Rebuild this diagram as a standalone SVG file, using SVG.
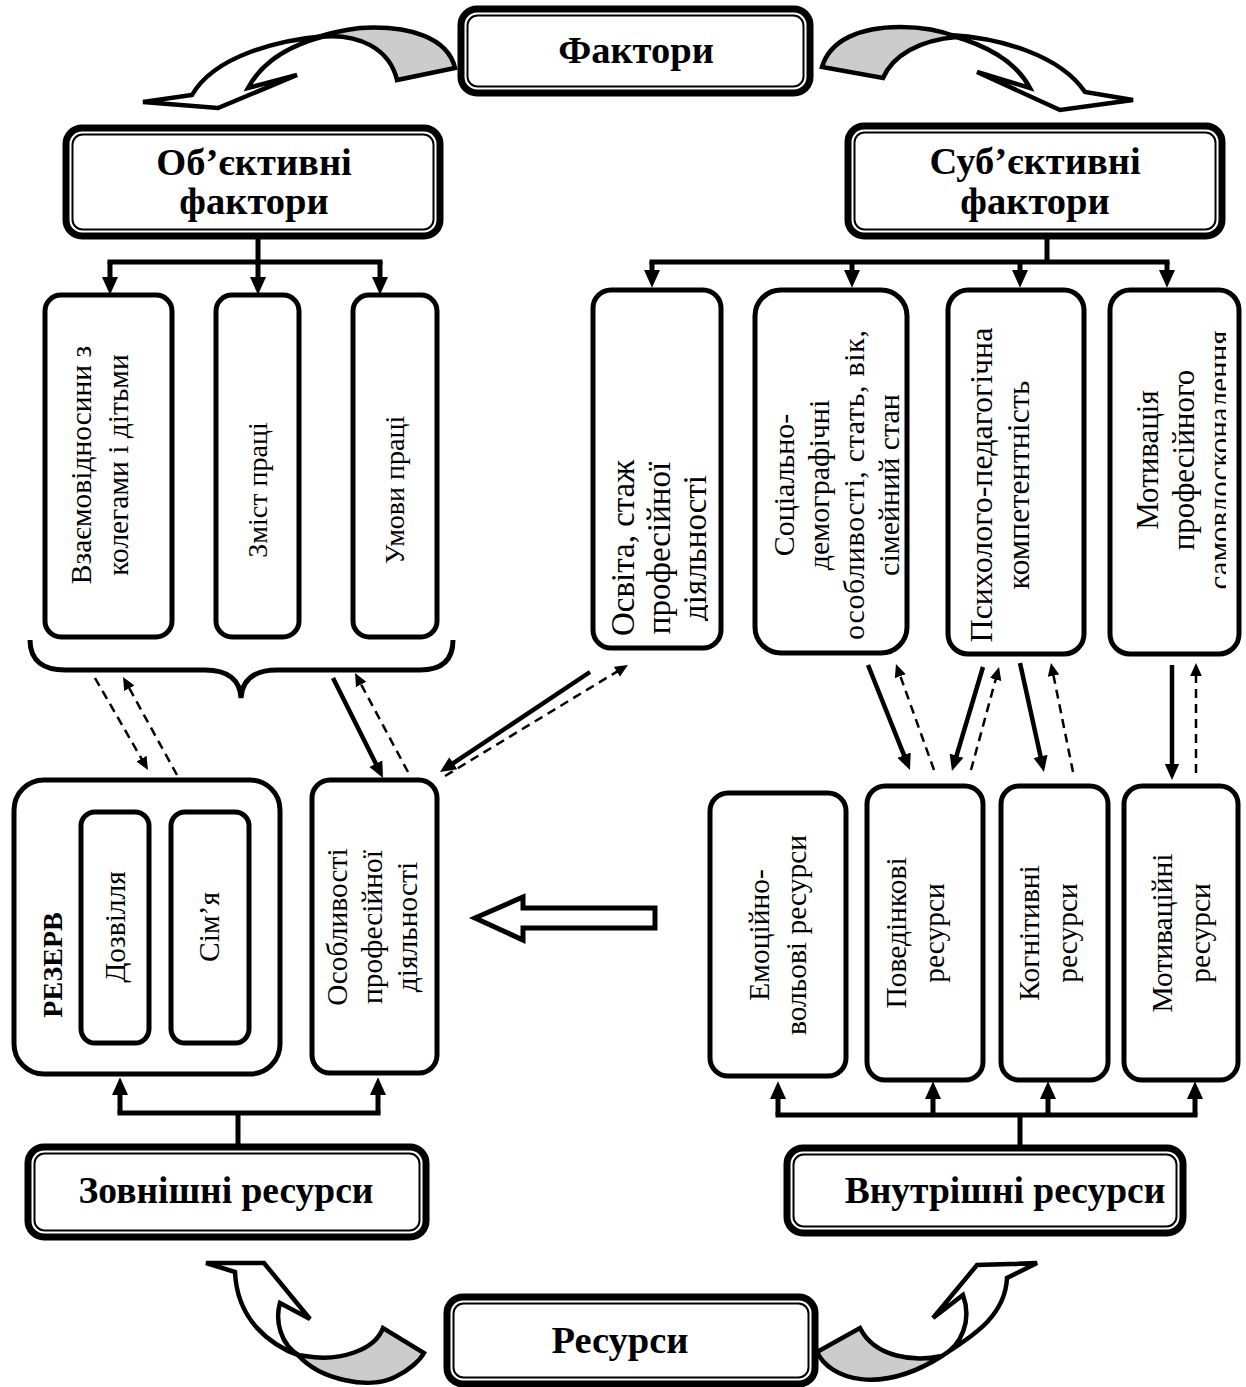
<svg xmlns="http://www.w3.org/2000/svg" width="1246" height="1387" viewBox="0 0 1246 1387">
<style>
.box{fill:#fff;stroke:#000;stroke-width:5}
.dbo{fill:#fff;stroke:#000;stroke-width:7}
.dbi{fill:none;stroke:#000;stroke-width:2}
.t{font-family:"Liberation Serif","Times New Roman",serif;font-size:28px;fill:#000}
.t2{font-family:"Liberation Serif","Times New Roman",serif;font-size:29.5px;fill:#000}
.tb{font-family:"Liberation Serif","Times New Roman",serif;font-size:32px;fill:#000}
.h{font-family:"Liberation Serif","Times New Roman",serif;font-size:38.5px;font-weight:bold;fill:#000}
.ln{stroke:#000;stroke-width:5;fill:none}
.sl{stroke:#000;stroke-width:4.5;fill:none}
.dl{stroke:#000;stroke-width:2.5;fill:none;stroke-dasharray:9 6}
.rib{fill:#fff;stroke:#000;stroke-width:4.5;stroke-linejoin:miter}
.ribg{fill:#ccc;stroke:#000;stroke-width:4.5}
</style>
<defs>
<marker id="ah" viewBox="0 0 10 10" refX="4" refY="5" markerWidth="18" markerHeight="18" markerUnits="userSpaceOnUse" orient="auto"><path d="M0,0.5 L10,5 L0,9.5 Z" fill="#000"/></marker>
<marker id="as" viewBox="0 0 10 10" refX="4" refY="5" markerWidth="16" markerHeight="16" markerUnits="userSpaceOnUse" orient="auto"><path d="M0,0.5 L10,5 L0,9.5 Z" fill="#000"/></marker>
<marker id="ad" viewBox="0 0 10 10" refX="4" refY="5" markerWidth="13" markerHeight="13" markerUnits="userSpaceOnUse" orient="auto"><path d="M0,0.5 L10,5 L0,9.5 Z" fill="#000"/></marker>
<clipPath id="cOsv"><rect x="596" y="293" width="112" height="352"/></clipPath>
<clipPath id="cSoc"><rect x="758" y="293" width="146" height="357"/></clipPath>
<clipPath id="cMot"><rect x="1113" y="293" width="113" height="358"/></clipPath>
</defs>

<!-- curved ribbon arrows -->
<g id="ribbons">
<path class="ribg" d="M318,37 C360,32 390,50 397,80 L455,68 C448,38 410,25 360,28 C345,30 330,33 318,37 Z"/>
<path class="rib" d="M325,36 C280,40 215,55 192,95 L143,102 L218,108 L297,75 L248,88 C262,62 290,45 325,36 Z"/>
<path class="ribg" d="M957,37 C920,40 893,55 883,78 L822,67 C830,40 860,27 900,27 C920,27 940,30 957,37 Z"/>
<path class="rib" d="M950,35 C1000,38 1060,55 1085,92 L1133,100 L1060,110 L977,72 L1030,88 C1015,60 985,45 950,35 Z"/>
<path class="ribg" d="M298,1355 C320,1380 370,1390 395,1377 C410,1370 420,1360 424,1353 L383,1328 C375,1350 340,1362 305,1356 Z"/>
<path class="rib" d="M300,1356 C270,1345 237,1320 235,1272 L206,1263 L264,1263 L310,1319 L280,1303 C275,1320 280,1345 300,1356 Z"/>
<path class="ribg" d="M817,1352 C830,1380 880,1395 942,1356 C915,1362 875,1358 860,1328 Z"/>
<path class="rib" d="M942,1356 C965,1340 1005,1320 1007,1278 L1037,1263 L977,1265 L933,1318 L963,1295 C972,1320 962,1345 942,1356 Z"/>
</g>

<!-- connectors -->
<g id="connectors">
<path class="ln" d="M258,238 V284" marker-end="url(#ah)"/>
<path class="ln" d="M107.5,262 H382.5"/>
<path class="ln" d="M110,262 V284" marker-end="url(#ah)"/>
<path class="ln" d="M380,262 V284" marker-end="url(#ah)"/>

<path class="ln" d="M1047,238 V262"/>
<path class="ln" d="M649.5,262 H1169.5"/>
<path class="ln" d="M652,262 V277" marker-end="url(#ah)"/>
<path class="ln" d="M852,262 V277" marker-end="url(#ah)"/>
<path class="ln" d="M1020,262 V277" marker-end="url(#ah)"/>
<path class="ln" d="M1167,262 V277" marker-end="url(#ah)"/>

<path class="ln" d="M30,640 C30,662 45,670 65,670 L205,670 C228,670 240,680 241,698 C242,680 254,670 277,670 L420,670 C440,670 453,662 453,640"/>

<path class="sl" d="M333,678 L378.7,769.4" marker-end="url(#as)"/>
<path class="sl" d="M590,672 L448,766.7" marker-end="url(#as)"/>
<path class="sl" d="M868,665 L906.4,761.1" marker-end="url(#as)"/>
<path class="sl" d="M983,667 L954.7,761.8" marker-end="url(#as)"/>
<path class="sl" d="M1020,663 L1041.9,762.6" marker-end="url(#as)"/>
<path class="sl" d="M1172,665 L1172,770.4" marker-end="url(#as)"/>

<path class="dl" d="M95,678 L144.1,763.2" marker-end="url(#ad)"/>
<path class="dl" d="M177,775 L126.8,683.8" marker-end="url(#ad)"/>
<path class="dl" d="M408,772 L358.7,679.9" marker-end="url(#ad)"/>
<path class="dl" d="M445,776 L621.3,669" marker-end="url(#ad)"/>
<path class="dl" d="M934,770 L898.6,671.3" marker-end="url(#ad)"/>
<path class="dl" d="M971,770 L997,674.5" marker-end="url(#ad)"/>
<path class="dl" d="M1073,772 L1052.5,670.6" marker-end="url(#ad)"/>
<path class="dl" d="M1196,773 L1196,670.8" marker-end="url(#ad)"/>

<path d="M475,918 L523,897 L523,908 L655,908 L655,928 L523,928 L523,940 Z" fill="#fff" stroke="#000" stroke-width="5" stroke-linejoin="miter"/>

<path class="ln" d="M238,1147 V1113"/>
<path class="ln" d="M117.5,1113 H380.5"/>
<path class="ln" d="M120,1113 V1088" marker-end="url(#ah)"/>
<path class="ln" d="M378,1113 V1088" marker-end="url(#ah)"/>

<path class="ln" d="M1020,1148 V1115"/>
<path class="ln" d="M775.5,1115 H1197.5"/>
<path class="ln" d="M778,1115 V1092" marker-end="url(#ah)"/>
<path class="ln" d="M933,1115 V1092" marker-end="url(#ah)"/>
<path class="ln" d="M1048,1115 V1092" marker-end="url(#ah)"/>
<path class="ln" d="M1195,1115 V1092" marker-end="url(#ah)"/>
</g>

<!-- header nodes -->
<g id="n-faktory">
<rect class="dbo" x="461" y="9" width="349" height="84" rx="16"/>
<rect class="dbi" x="467.5" y="15.5" width="336" height="71" rx="10"/>
<text class="h" x="636" y="63" text-anchor="middle">Фактори</text>
</g>
<g id="n-obj">
<rect class="dbo" x="66" y="128" width="374" height="108" rx="16"/>
<rect class="dbi" x="72.5" y="134.5" width="361" height="95" rx="10"/>
<text class="h" x="254" y="175" text-anchor="middle">Об’єктивні</text>
<text class="h" x="254" y="214" text-anchor="middle">фактори</text>
</g>
<g id="n-subj">
<rect class="dbo" x="848" y="126" width="374" height="110" rx="16"/>
<rect class="dbi" x="854.5" y="132.5" width="361" height="97" rx="10"/>
<text class="h" x="1035" y="174" text-anchor="middle">Суб’єктивні</text>
<text class="h" x="1035" y="214" text-anchor="middle">фактори</text>
</g>

<!-- objective factor boxes -->
<g id="n-vzaiem">
<rect class="box" x="45" y="295" width="127" height="342" rx="16"/>
<text class="t" style="font-size:29.5px" transform="translate(91,465) rotate(-90)" text-anchor="middle"><tspan x="0" y="0">Взаємовідносини з</tspan><tspan x="0" dy="37">колегами і дітьми</tspan></text>
</g>
<g id="n-zmist">
<rect class="box" x="216" y="295" width="83" height="342" rx="16"/>
<text class="t" transform="translate(267,490) rotate(-90)" text-anchor="middle">Зміст праці</text>
</g>
<g id="n-umovy">
<rect class="box" x="353" y="295" width="84" height="342" rx="16"/>
<text class="t" transform="translate(404,490) rotate(-90)" text-anchor="middle">Умови праці</text>
</g>

<!-- subjective factor boxes -->
<g id="n-osvita">
<rect class="box" x="593" y="290" width="128" height="358" rx="18"/>
<g clip-path="url(#cOsv)">
<text class="tb" style="font-size:33px" transform="translate(634,548) rotate(-90)" text-anchor="middle"><tspan x="0" y="0">Освіта, стаж</tspan><tspan x="0" dy="36">професійної</tspan><tspan x="0" dy="36">діяльності</tspan></text>
</g>
</g>
<g id="n-social">
<rect class="box" x="755" y="290" width="152" height="363" rx="26"/>
<g clip-path="url(#cSoc)">
<text class="tb" style="font-size:30px" transform="translate(794,485) rotate(-90)" text-anchor="middle"><tspan x="0" y="0">Соціально-</tspan><tspan x="0" dy="35">демографічні</tspan><tspan x="0" dy="35" textLength="310" lengthAdjust="spacing">особливості, стать,  вік,</tspan><tspan x="0" dy="35">сімейний стан</tspan></text>
</g>
</g>
<g id="n-psych">
<rect class="box" x="948" y="290" width="136" height="364" rx="20"/>
<text class="tb" transform="translate(992,485) rotate(-90)" text-anchor="middle"><tspan x="0" y="0">Психолого-педагогічна</tspan><tspan x="0" dy="37">компетентність</tspan></text>
</g>
<g id="n-motiv">
<rect class="box" x="1110" y="290" width="129" height="364" rx="20"/>
<g clip-path="url(#cMot)">
<text class="tb" style="font-size:31px" transform="translate(1158,460) rotate(-90)" text-anchor="middle"><tspan x="0" y="0">Мотивація</tspan><tspan x="0" dy="36">професійного</tspan><tspan x="0" dy="36">самовдосконалення</tspan></text>
</g>
</g>

<!-- external resources -->
<g id="n-rezerv">
<rect class="box" x="14" y="780" width="266" height="294" rx="30"/>
<text class="t" transform="translate(62,965) rotate(-90)" text-anchor="middle" style="font-weight:bold">РЕЗЕРВ</text>
</g>
<g id="n-dozvillia">
<rect class="box" x="81" y="812" width="68" height="231" rx="14"/>
<text class="t2" transform="translate(125,927) rotate(-90)" text-anchor="middle">Дозвілля</text>
</g>
<g id="n-simia">
<rect class="box" x="171" y="812" width="78" height="231" rx="14"/>
<text class="t2" transform="translate(219,927) rotate(-90)" text-anchor="middle">Сім’я</text>
</g>
<g id="n-osoblyvosti">
<rect class="box" x="312" y="780" width="125" height="293" rx="18"/>
<text class="t2" transform="translate(347,927) rotate(-90)" text-anchor="middle"><tspan x="0" y="0">Особливості</tspan><tspan x="0" dy="35">професійної</tspan><tspan x="0" dy="35">діяльності</tspan></text>
</g>

<!-- internal resources -->
<g id="n-emoc">
<rect class="box" x="710" y="793" width="136" height="283" rx="18"/>
<text class="t2" transform="translate(769,935) rotate(-90)" text-anchor="middle"><tspan x="0" y="0">Емоційно-</tspan><tspan x="0" dy="37">вольові ресурси</tspan></text>
</g>
<g id="n-poved">
<rect class="box" x="867" y="786" width="116" height="294" rx="18"/>
<text class="t2" transform="translate(906,933) rotate(-90)" text-anchor="middle"><tspan x="0" y="0">Поведінкові</tspan><tspan x="0" dy="38">ресурси</tspan></text>
</g>
<g id="n-kogn">
<rect class="box" x="1001" y="786" width="107" height="294" rx="18"/>
<text class="t2" transform="translate(1039,933) rotate(-90)" text-anchor="middle"><tspan x="0" y="0">Когнітивні</tspan><tspan x="0" dy="38">ресурси</tspan></text>
</g>
<g id="n-motres">
<rect class="box" x="1124" y="786" width="114" height="294" rx="18"/>
<text class="t2" transform="translate(1172,933) rotate(-90)" text-anchor="middle"><tspan x="0" y="0">Мотиваційні</tspan><tspan x="0" dy="38">ресурси</tspan></text>
</g>

<!-- bottom header nodes -->
<g id="n-zovn">
<rect class="dbo" x="28" y="1147" width="398" height="90" rx="16"/>
<rect class="dbi" x="34.5" y="1153.5" width="385" height="77" rx="10"/>
<text class="h" style="font-size:37.5px" x="226" y="1203" text-anchor="middle">Зовнішні ресурси</text>
</g>
<g id="n-vnutr">
<rect class="dbo" x="787" y="1148" width="396" height="85" rx="16"/>
<rect class="dbi" x="793.5" y="1154.5" width="383" height="72" rx="10"/>
<text class="h" style="font-size:37.5px" x="1005" y="1203" text-anchor="middle">Внутрішні ресурси</text>
</g>
<g id="n-resursy">
<rect class="dbo" x="447" y="1297" width="368" height="87" rx="16"/>
<rect class="dbi" x="453.5" y="1303.5" width="355" height="74" rx="10"/>
<text class="h" x="620" y="1353" text-anchor="middle">Ресурси</text>
</g>
</svg>
